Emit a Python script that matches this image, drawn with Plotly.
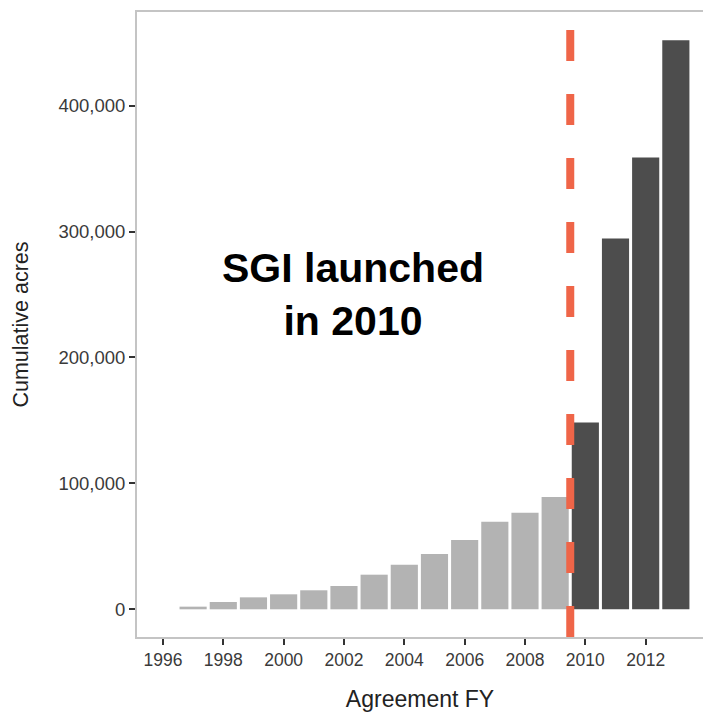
import plotly.graph_objects as go

years = [1997, 1998, 1999, 2000, 2001, 2002, 2003, 2004, 2005, 2006, 2007, 2008, 2009,
         2010, 2011, 2012, 2013]
acres = [2100, 5800, 9500, 11900, 15100, 18500, 27500, 35400, 43900, 55000, 69600, 76700, 89200,
         148400, 294600, 358900, 452000]
sgi_start = 2010
launch_line_x = 2009.5
x_ticks = [1996, 1998, 2000, 2002, 2004, 2006, 2008, 2010, 2012]
y_ticks = [0, 100000, 200000, 300000, 400000]

colors = ["#4D4D4D" if y >= sgi_start else "#B3B3B3" for y in years]

fig = go.Figure()
fig.add_trace(go.Bar(x=years, y=acres, marker=dict(color=colors, line=dict(width=0)),
                     width=0.9, hoverinfo="x+y"))

fig.add_shape(type="line", xref="x", yref="paper", x0=launch_line_x, x1=launch_line_x,
              y0=0, y1=1, line=dict(color="#EF6548", width=8, dash="31px,33px"))

fig.add_annotation(x=2002.3, y=250000, xref="x", yref="y",
                   text="<b>SGI launched<br>in 2010</b>", showarrow=False,
                   font=dict(family="Liberation Sans, Arial, sans-serif", size=41, color="black"),
                   align="center", xanchor="center", yanchor="middle")

fig.update_layout(
    width=703, height=712,
    margin=dict(l=137, r=0, t=12, b=75),
    paper_bgcolor="white", plot_bgcolor="white",
    showlegend=False,
    font=dict(family="Liberation Sans, Arial, sans-serif", color="#444444"),
    xaxis=dict(range=[1995.14, 2013.9], tickvals=x_ticks, ticktext=[str(t) for t in x_ticks],
               showgrid=False, zeroline=False, showline=True, mirror=True,
               linecolor="#C4C4C4", linewidth=2,
               ticks="outside", ticklen=6, tickwidth=1.5, tickcolor="#333333",
               tickfont=dict(size=17.5, color="#3A3A3A"),
               title=dict(text="Agreement FY", font=dict(size=23, color="#222222"), standoff=24)),
    yaxis=dict(range=[-22000, 474400], tickvals=y_ticks, tickformat=",d",
               showgrid=False, zeroline=False, showline=True,
               linecolor="#C4C4C4", linewidth=2,
               ticks="outside", ticklen=6, tickwidth=1.5, tickcolor="#333333",
               tickfont=dict(size=18.5, color="#3A3A3A"),
               title=dict(text="Cumulative acres", font=dict(size=21.5, color="#222222"), standoff=24)),
)

fig.write_html("out.html", config={"displayModeBar": False},
               post_script="document.body.style.margin='0';document.body.style.overflow='hidden';")
